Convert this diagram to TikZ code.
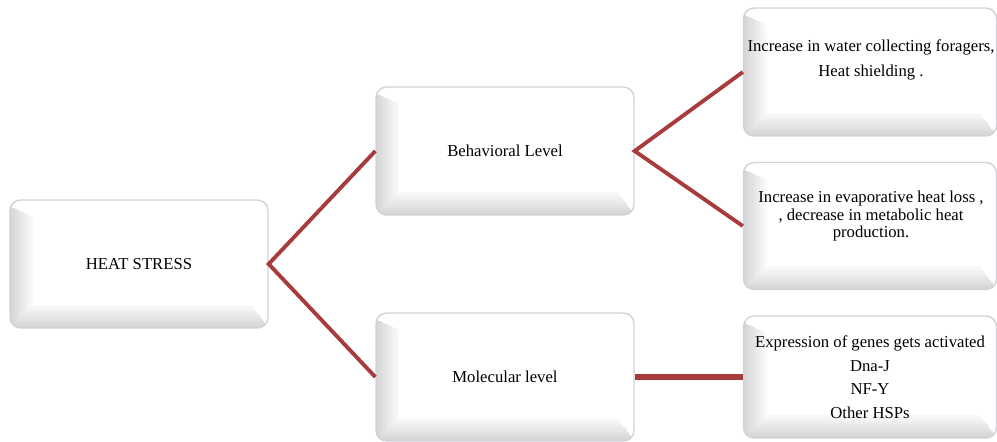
\documentclass[tikz,border=0pt]{standalone}
\usepackage{fontspec}
\setmainfont{Liberation Serif}
\usetikzlibrary{arrows.meta}
\definecolor{linkred}{RGB}{168,60,60}
\definecolor{rimgray}{RGB}{210,210,215}

\begin{document}
\begin{tikzpicture}[x=0.02cm, y=-0.02cm,
    box/.style={rectangle, rounded corners=6pt, draw=rimgray, line width=0.8pt, fill=white,
        minimum width=5.16cm, minimum height=2.56cm, inner sep=0pt,
        path picture={
            \foreach \i in {0,...,9} {
                \fill[sharp corners, gray!\the\numexpr 32-3*\i\relax]
                    ([xshift=\i*1.3pt, yshift=\i*1.3pt]path picture bounding box.south west)
                    rectangle ([xshift=\i*1.3pt+1.4pt, yshift=-\i*0.6pt-4pt]path picture bounding box.north west);
                \fill[sharp corners, gray!\the\numexpr 32-3*\i\relax]
                    ([xshift=\i*1.3pt+1.3pt, yshift=\i*1.3pt]path picture bounding box.south west)
                    rectangle ([xshift=-\i*1.0pt, yshift=\i*1.3pt+1.4pt]path picture bounding box.south east);
            }
        }},
    txt/.style={align=center, font=\fontsize{9.5pt}{14.7pt}\selectfont},
    link/.style={draw=linkred, line width=2.2pt}]
\useasboundingbox (0,0) rectangle (997,441);
            % Root
            \node[box] (heat) at (139,264) {};
            \node[txt] (heattext) at (139,264) {HEAT STRESS};
            % Levels
            \node[box] (behav) at (505,151) {};
            \node[txt] (behavtext) at (505,151) {Behavioral Level};
            \node[box] (molec) at (505,377) {};
            \node[txt] (molectext) at (505,377) {Molecular level};
            % Responses
            \node[box, minimum width=5.06cm] (forage) at (870,72) {};
            \node[txt] (foragetext) at (871,60) {Increase in water collecting foragers,\\ Heat shielding .};
            \node[box, minimum width=5.06cm, minimum height=2.54cm] (evap) at (870,226) {};
            \node[txt, font=\fontsize{9.5pt}{9.9pt}\selectfont] (evaptext) at (871,216) {Increase in evaporative heat loss ,\\ , decrease in metabolic heat\\ production.};
            \node[box, minimum width=5.06cm, minimum height=2.44cm] (genes) at (870,377) {};
            \node[txt, font=\fontsize{9.5pt}{13.4pt}\selectfont] (genestext) at (870,377) {Expression of genes gets activated\\ Dna-J\\ NF-Y\\ Other HSPs};
            % Connectors
            \draw[link] (behav.west) -- (heat.east) -- (molec.west);
            \draw[link] (forage.west) -- (behav.east) -- (evap.west);
            \draw[link, line width=3.2pt] (molec.east) -- (genes.west);
        \end{tikzpicture}
\end{document}
